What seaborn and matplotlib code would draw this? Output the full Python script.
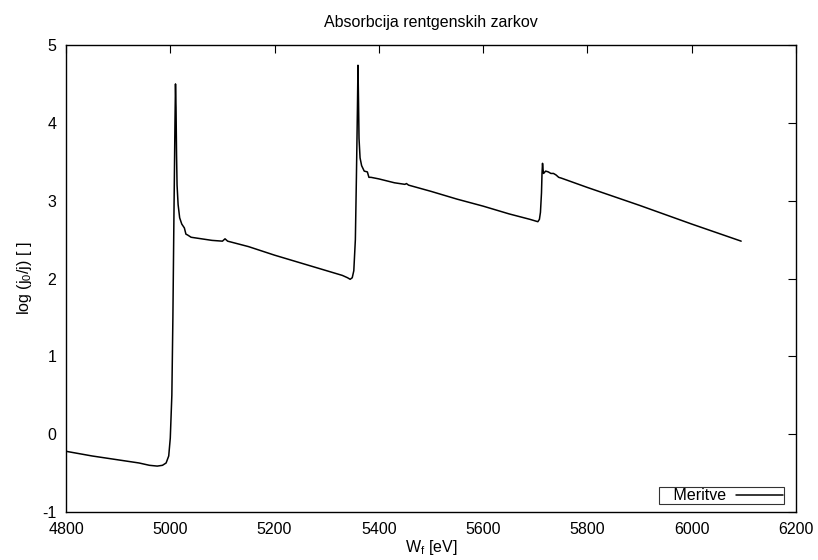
import pandas as pd
import matplotlib
matplotlib.use("Agg")
import matplotlib.pyplot as plt
import seaborn as sns

##############################################################################
# data
##############################################################################
energy = [
    4800, 4850, 4900, 4940, 4960, 4975, 4985, 4992, 4997, 5000,
    5003, 5005, 5007, 5009, 5010, 5011, 5012, 5013, 5015, 5018,
    5022, 5027, 5030, 5033, 5040, 5060, 5080, 5100, 5105, 5110,
    5150, 5200, 5250, 5300, 5330, 5340, 5345, 5349, 5352, 5355,
    5357, 5359, 5360, 5361, 5362, 5364, 5367, 5372, 5378, 5381,
    5385, 5400, 5430, 5450, 5453, 5457, 5500, 5550, 5600, 5650,
    5690, 5700, 5705, 5708, 5710, 5712, 5713, 5714, 5715, 5716,
    5720, 5725, 5730, 5735, 5740, 5745, 5750, 5800, 5900, 6000,
    6095,
]
absorption = [
    -0.22, -0.28, -0.33, -0.37, -0.40, -0.41, -0.40, -0.37, -0.28, -0.05,
    0.50, 1.50, 2.80, 4.00, 4.50, 4.20, 3.60, 3.20, 2.95, 2.78,
    2.70, 2.65, 2.57, 2.56, 2.53, 2.51, 2.49, 2.48, 2.51, 2.48,
    2.41, 2.30, 2.20, 2.10, 2.04, 2.01, 1.99, 2.01, 2.10, 2.50,
    3.30, 4.20, 4.74, 4.30, 3.80, 3.55, 3.45, 3.38, 3.37, 3.30,
    3.30, 3.28, 3.23, 3.21, 3.22, 3.20, 3.12, 3.02, 2.93, 2.83,
    2.76, 2.74, 2.73, 2.76, 2.85, 3.10, 3.35, 3.48, 3.40, 3.35,
    3.38, 3.37, 3.35, 3.35, 3.33, 3.30, 3.29, 3.17, 2.94, 2.70,
    2.48,
]

df = pd.DataFrame({"W": energy, "log": absorption, "series": "Meritve"})

##############################################################################
# plot
##############################################################################
sns.set_theme(style="white")
plt.rcParams["font.family"] = ["Liberation Sans", "DejaVu Sans"]
plt.rcParams["mathtext.fontset"] = "custom"
plt.rcParams["mathtext.rm"] = "Liberation Sans"
plt.rcParams["mathtext.it"] = "Liberation Sans"
plt.rcParams["axes.unicode_minus"] = False
plt.rcParams["text.color"] = "black"
plt.rcParams["axes.labelcolor"] = "black"

fig = plt.figure(figsize=(8.18, 5.6), dpi=100)
ax = fig.add_axes([0.0807, 0.0857, 0.8923, 0.8339])

sns.lineplot(
    data=df,
    x="W",
    y="log",
    hue="series",
    palette=["black"],
    sort=False,
    estimator=None,
    linewidth=1.1,
    ax=ax,
)

# layout (gnuplot look)
fs = 11.5
ax.set_xlim(4800, 6200)
ax.set_ylim(-1, 5)
ax.set_xticks(range(4800, 6201, 200))
ax.set_yticks(range(-1, 6))
ax.tick_params(direction="in", length=6, width=0.8, colors="black",
               top=True, right=True, labelsize=fs, pad=7)
for s in ax.spines.values():
    s.set_color("black")
    s.set_linewidth(1.0)

ax.set_title("Absorbcija rentgenskih zarkov", fontsize=fs, pad=13, color="black")
ax.set_xlabel("W$_\\mathrm{f}$ [eV]", fontsize=fs, labelpad=1)
ax.set_ylabel("log (j$_\\mathrm{0}$/j) [ ]", fontsize=fs, labelpad=6)

# gnuplot-style key: label first, then the line sample, boxed
handles, labels = ax.get_legend_handles_labels()
leg = ax.legend(
    handles, ["   " + l for l in labels],
    loc="lower right",
    bbox_to_anchor=(0.984, 0.017),
    markerfirst=False,
    fontsize=fs,
    frameon=True,
    fancybox=False,
    borderpad=0.05,
    handlelength=3.0,
    handletextpad=0.6,
    borderaxespad=0,
)
leg.get_frame().set_edgecolor("black")
leg.get_frame().set_linewidth(0.8)

fig.savefig("out.png", dpi=100)
